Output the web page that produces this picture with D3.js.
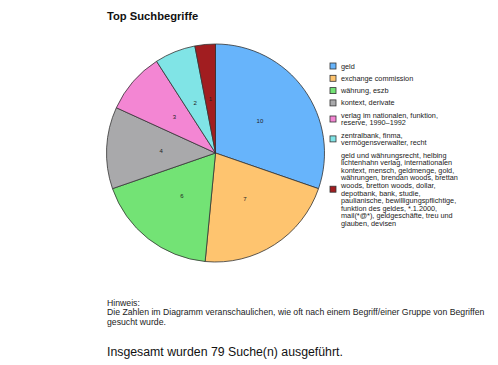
<!DOCTYPE html>
<html>
<head>
<meta charset="utf-8">
<script src="https://cdnjs.cloudflare.com/ajax/libs/d3/7.8.5/d3.min.js"></script>
<style>
  body { margin: 0; background: #fff; }
  text { font-family: "Liberation Sans", Arial, sans-serif; }
</style>
</head>
<body>
<script>
var w = 498;
var h = 365;

var categories = [
	["geld"],
	["exchange commission"],
	["währung, eszb"],
	["kontext, derivate"],
	["verlag im nationalen, funktion,", "reserve, 1990–1992"],
	["zentralbank, finma,", "vermögensverwalter, recht"],
	["geld und währungsrecht, helbing", "lichtenhahn verlag, internationalen",
	 "kontext, mensch, geldmenge, gold,", "währungen, brendan woods, brettan",
	 "woods, bretton woods, dollar,", "depotbank, bank, studie,",
	 "paulianische, bewilligungspflichtige,", "funktion des geldes, *.1.2000,",
	 "mail(*@*), geldgeschäfte, treu und", "glauben, devisen"]
];
var values = [10, 7, 6, 4, 3, 2, 1];
var colors = ["#67b4fb", "#fec46f", "#73e375", "#a9a9ab", "#f386d3", "#80e4e6", "#a11d20"];

var title = "Top Suchbegriffe";
var noteLines = ["Hinweis:",
	"Die Zahlen im Diagramm veranschaulichen, wie oft nach einem Begriff/einer Gruppe von Begriffen",
	"gesucht wurde."];
var total = "Insgesamt wurden 79 Suche(n) ausgeführt.";

var cx = 215.5, cy = 153, r = 109;

var svg = d3.select("body")
			.append("svg")
			.attr("width", w)
			.attr("height", h);

svg.append("text")
	.attr("x", 107)
	.attr("y", 20)
	.attr("font-size", "11.2px")
	.attr("font-weight", "bold")
	.attr("fill", "#111")
	.text(title);

var pie = d3.pie().sort(null).value(function(d) { return d; });
var arc = d3.arc().innerRadius(0).outerRadius(r);
var labelArc = d3.arc().innerRadius(r / 2).outerRadius(r / 2);

var g = svg.append("g").attr("transform", "translate(" + cx + "," + cy + ")");

g.selectAll("path")
	.data(pie(values))
	.enter()
	.append("path")
	.attr("d", arc)
	.attr("fill", function(d, i) { return colors[i]; })
	.attr("stroke", "#333")
	.attr("stroke-width", 0.8);

g.selectAll("text")
	.data(pie(values))
	.enter()
	.append("text")
	.attr("transform", function(d) { return "translate(" + labelArc.centroid(d) + ")"; })
	.attr("text-anchor", "middle")
	.attr("dy", "0.35em")
	.attr("font-size", "6px")
	.attr("fill", "#222")
	.text(function(d) { return d.value; });

// legend
var lineH = 7.6;
var y = 66;
var legend = svg.append("g");
categories.forEach(function(lines, i) {
	var mid = y + (lines.length - 1) * lineH / 2;
	legend.append("rect")
		.attr("x", 330)
		.attr("y", mid - 3)
		.attr("width", 6)
		.attr("height", 6)
		.attr("fill", colors[i])
		.attr("stroke", "#333")
		.attr("stroke-width", 0.8);
	lines.forEach(function(t, j) {
		legend.append("text")
			.attr("x", 341)
			.attr("y", y + j * lineH)
			.attr("dy", "0.35em")
			.attr("font-size", "7.3px")
			.attr("fill", "#222")
			.text(t);
	});
	y = y + (lines.length - 1) * lineH + 12.3;
});

svg.selectAll(".note")
	.data(noteLines)
	.enter()
	.append("text")
	.attr("class", "note")
	.attr("x", 107)
	.attr("y", function(d, i) { return 305.5 + i * 9.5; })
	.attr("font-size", "8.7px")
	.attr("fill", "#222")
	.text(function(d) { return d; });

svg.append("text")
	.attr("x", 107)
	.attr("y", 356)
	.attr("font-size", "12.3px")
	.attr("fill", "#111")
	.text(total);
</script>
</body>
</html>
